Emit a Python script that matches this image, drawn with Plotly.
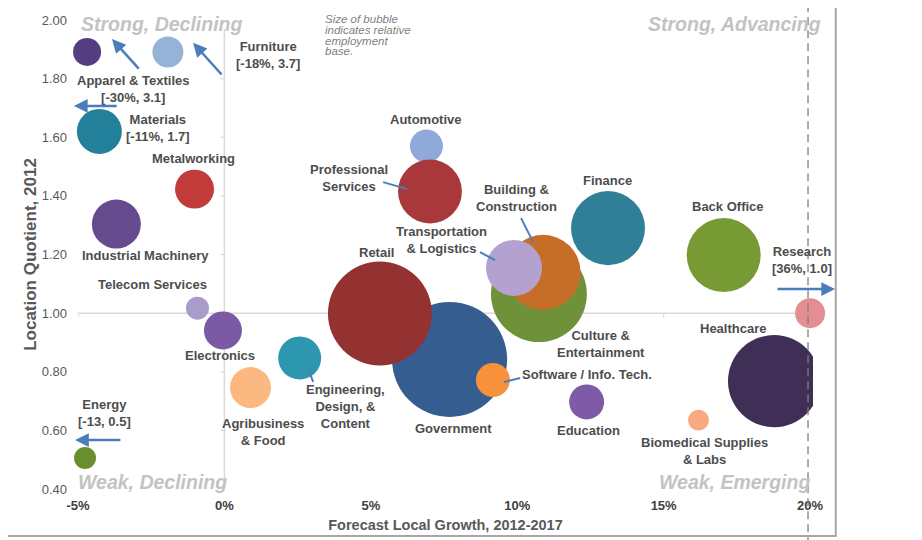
import plotly.graph_objects as go

# ---------------- data ----------------
industries = ["Apparel & Textiles", "Furniture", "Materials", "Metalworking",
              "Industrial Machinery", "Telecom Services", "Electronics",
              "Engineering, Design, & Content", "Agribusiness & Food", "Energy",
              "Automotive", "Professional Services", "Government", "Retail",
              "Software / Info. Tech.", "Culture & Entertainment",
              "Building & Construction", "Transportation & Logistics", "Education",
              "Finance", "Back Office", "Biomedical Supplies & Labs", "Research",
              "Healthcare"]
growth = [-4.69, -1.93, -4.27, -1.02, -3.69, -0.92, -0.05, 2.57, 0.89, -4.76,
          6.90, 7.02, 7.69, 5.31, 9.17, 10.74, 10.88, 9.89, 12.37, 13.10, 17.05,
          16.19, 20.0, 18.77]
lq = [1.891, 1.891, 1.620, 1.423, 1.304, 1.017, 0.941, 0.847, 0.746, 0.506,
      1.570, 1.415, 0.842, 0.999, 0.772, 1.065, 1.139, 1.154, 0.697, 1.290,
      1.198, 0.635, 1.0, 0.768]
employment = [1.96, 2.4, 5.06, 3.8, 6.0, 1.32, 3.61, 4.62, 4.2, 1.21,
              2.72, 10.2, 33.1, 27.0, 2.89, 23.0, 14.1, 7.84, 3.06, 13.7,
              13.7, 1.1, 2.25, 21.2]
colors = ["#563C80", "#95B3D7", "#23809A", "#C23B3B", "#654A8E", "#A99CC8",
          "#7A5AA5", "#2E97B0", "#FBB880", "#6A8E2E", "#8FAAD9", "#A8383A",
          "#355D90", "#943232", "#F7923A", "#6E913A", "#C66E28", "#B3A2CF",
          "#7D5BA6", "#2F7F98", "#779A35", "#F8A982", "#E38E93", "#3F2E56"]

x_ticks = [-5, 0, 5, 10, 15, 20]
x_ticktext = ["-5%", "0%", "5%", "10%", "15%", "20%"]
y_ticks = [0.4, 0.6, 0.8, 1.0, 1.2, 1.4, 1.6, 1.8, 2.0]

# label texts and their positions (data coords)
label_text = ["Apparel & Textiles<br>[-30%, 3.1]", "Furniture<br>[-18%, 3.7]",
              "Materials<br>[-11%, 1.7]", "Metalworking", "Industrial Machinery",
              "Telecom Services", "Electronics", "Engineering,<br>Design, &<br>Content",
              "Agribusiness<br>& Food", "Energy<br>[-13, 0.5]", "Automotive",
              "Professional<br>Services", "Government", "Retail",
              "Software / Info. Tech.", "Culture &<br>Entertainment",
              "Building &<br>Construction", "Transportation<br>& Logistics",
              "Education", "Finance", "Back Office",
              "Biomedical Supplies<br>& Labs", "Research<br>[36%, 1.0]", "Healthcare"]
label_x = [-3.12, 1.49, -2.27, -1.04, -2.71, -2.44, -0.15, 4.15, 1.32, -4.11,
           6.885, 4.256, 7.81, 5.178, 12.38, 12.86, 9.99, 7.43, 12.42, 13.07,
           17.2, 16.41, 19.73, 17.37]
label_y = [1.765, 1.881, 1.633, 1.526, 1.195, 1.096, 0.854, 0.683, 0.596, 0.659,
           1.659, 1.461, 0.608, 1.208, 0.789, 0.895, 1.393, 1.248, 0.601, 1.451,
           1.365, 0.530, 1.181, 0.949]

# off-chart arrows (tail -> head), data coords
arrow_tail = [(-2.88, 1.829), (-0.05, 1.809), (-3.63, 1.707), (-3.50, 0.567)]
arrow_head = [(-3.84, 1.935), (-1.07, 1.922), (-5.14, 1.707), (-5.10, 0.567)]
# research arrow: head in paper coords, tail as pixel offset
research_head = (1.030, 0.4264)
research_tail_offset = (-59, 0)
# leader lines
leaders = [((5.42, 1.447), (6.24, 1.423)), ((10.13, 1.324), (10.54, 1.243)),
           ((8.73, 1.208), (9.24, 1.181)), ((9.55, 0.765), (10.10, 0.779)),
           ((2.855, 0.813), (3.03, 0.765))]

FONT = "Liberation Sans, Arial, sans-serif"
LABEL_COLOR = "#4D4D4D"
BLUE = "#4A7EBB"

fig = go.Figure()

clip_idx = [i for i, n in enumerate(industries) if n == "Healthcare"]
free_idx = [i for i in range(len(industries)) if i not in clip_idx]

for idx, clip in ((clip_idx, True), (free_idx, False)):
    fig.add_trace(go.Scatter(
        x=[growth[i] for i in idx], y=[lq[i] for i in idx],
        mode="markers",
        text=[industries[i] for i in idx],
        hoverinfo="text",
        cliponaxis=clip,
        marker=dict(size=[employment[i] for i in idx], sizemode="area",
                    sizeref=0.005, color=[colors[i] for i in idx],
                    opacity=1, line=dict(width=0)),
        showlegend=False,
    ))

shapes = []
# crossing axis lines
shapes.append(dict(type="line", xref="x", yref="y", x0=-5, x1=20, y0=1.0, y1=1.0,
                   line=dict(color="#D9D9D9", width=1.5), layer="below"))
shapes.append(dict(type="line", xref="x", yref="y", x0=0, x1=0, y0=0.4, y1=1.97,
                   line=dict(color="#D9D9D9", width=1.5), layer="below"))
for v in y_ticks:
    shapes.append(dict(type="line", xref="x", yref="y", xsizemode="pixel", xanchor=0,
                       x0=-4, x1=0, y0=v, y1=v,
                       line=dict(color="#D9D9D9", width=1.2), layer="below"))
for v in x_ticks:
    shapes.append(dict(type="line", xref="x", yref="y", ysizemode="pixel", yanchor=1.0,
                       x0=v, x1=v, y0=0, y1=-4,
                       line=dict(color="#D9D9D9", width=1.2), layer="below"))
# leader lines
for (a, b) in leaders:
    shapes.append(dict(type="line", xref="x", yref="y", x0=a[0], y0=a[1], x1=b[0], y1=b[1],
                       line=dict(color=BLUE, width=2)))
# dashed vertical line
shapes.append(dict(type="line", xref="x", yref="paper", x0=19.93, x1=19.93, y0=-0.12, y1=1.06,
                   line=dict(color="#7F7F7F", width=1.3, dash="8px,5px")))
# outer border
shapes.append(dict(type="rect", xref="paper", yref="paper", x0=-0.0993, x1=1.031,
                   y0=-0.1, y1=1.0277, line=dict(color="#A6A6A6", width=2)))

annotations = []
for t, lx, ly in zip(label_text, label_x, label_y):
    annotations.append(dict(x=lx, y=ly, xref="x", yref="y", text="<b>" + t + "</b>",
                            showarrow=False, align="center",
                            font=dict(family=FONT, size=13, color=LABEL_COLOR)))
for (tx, ty), (hx, hy) in zip(arrow_tail, arrow_head):
    annotations.append(dict(x=hx, y=hy, ax=tx, ay=ty, xref="x", yref="y",
                            axref="x", ayref="y", text="", showarrow=True,
                            arrowhead=2, arrowsize=1.1, arrowwidth=2.5,
                            arrowcolor=BLUE, standoff=0, startstandoff=0))
annotations.append(dict(x=research_head[0], y=research_head[1],
                        ax=research_tail_offset[0], ay=research_tail_offset[1],
                        xref="paper", yref="paper", axref="pixel", ayref="pixel",
                        text="", showarrow=True, arrowhead=2, arrowsize=1.1,
                        arrowwidth=2.5, arrowcolor=BLUE, standoff=0, startstandoff=0))

# quadrant labels (paper coords)
quad = [("Strong, Declining", 0.0014, 0.9915, "left"),
        ("Strong, Advancing", 1.0136, 0.9915, "right"),
        ("Weak, Declining", -0.0027, 0.0149, "left"),
        ("Weak, Emerging", 0.9986, 0.0149, "right")]
for t, qx, qy, anc in quad:
    annotations.append(dict(x=qx, y=qy, xref="paper", yref="paper",
                            text="<b><i>" + t + "</i></b>",
                            xanchor=anc, yanchor="middle", showarrow=False,
                            font=dict(family=FONT, size=19.5, color="#C3C3C3")))

note_lines = ["Size of bubble", "indicates relative", "employment", "base."]
note_y = [1.002, 0.979, 0.955, 0.934]
for t, ny in zip(note_lines, note_y):
    annotations.append(dict(x=0.333, y=ny, xref="paper", yref="paper",
                            text="<i>" + t + "</i>", yanchor="middle",
                            xanchor="left", showarrow=False,
                            font=dict(family=FONT, size=11.5, color="#7F7F7F")))

# page body has an 8px default margin: plot area placed so it lands where the reference has it
fig.update_layout(
    width=914, height=532,
    margin=dict(l=70, r=109, t=12, b=51),
    paper_bgcolor="white", plot_bgcolor="white",
    font=dict(family=FONT, color="#595959"),
    shapes=shapes, annotations=annotations,
    xaxis=dict(range=[-5, 20.1], tickvals=x_ticks, ticktext=x_ticktext,
               showgrid=False, zeroline=False, showline=False, ticks="",
               tickfont=dict(family=FONT, size=13, color="#404040", weight="bold"),
               ticklabelstandoff=7, automargin=False,
               title=dict(text="<b>Forecast Local Growth, 2012-2017</b>", standoff=7,
                          font=dict(family=FONT, size=14.5, color="#595959")),
               fixedrange=True),
    yaxis=dict(range=[0.4, 2.0], tickvals=y_ticks, tickformat=".2f",
               showgrid=False, zeroline=False, showline=False, ticks="",
               tickfont=dict(family=FONT, size=13, color="#595959"),
               ticklabelstandoff=10, automargin=False,
               title=dict(text="<b>Location Quotient, 2012</b>", standoff=0,
                          font=dict(family=FONT, size=17, color="#595959")),
               fixedrange=True),
    hovermode="closest",
)

fig.write_html("out.html")
